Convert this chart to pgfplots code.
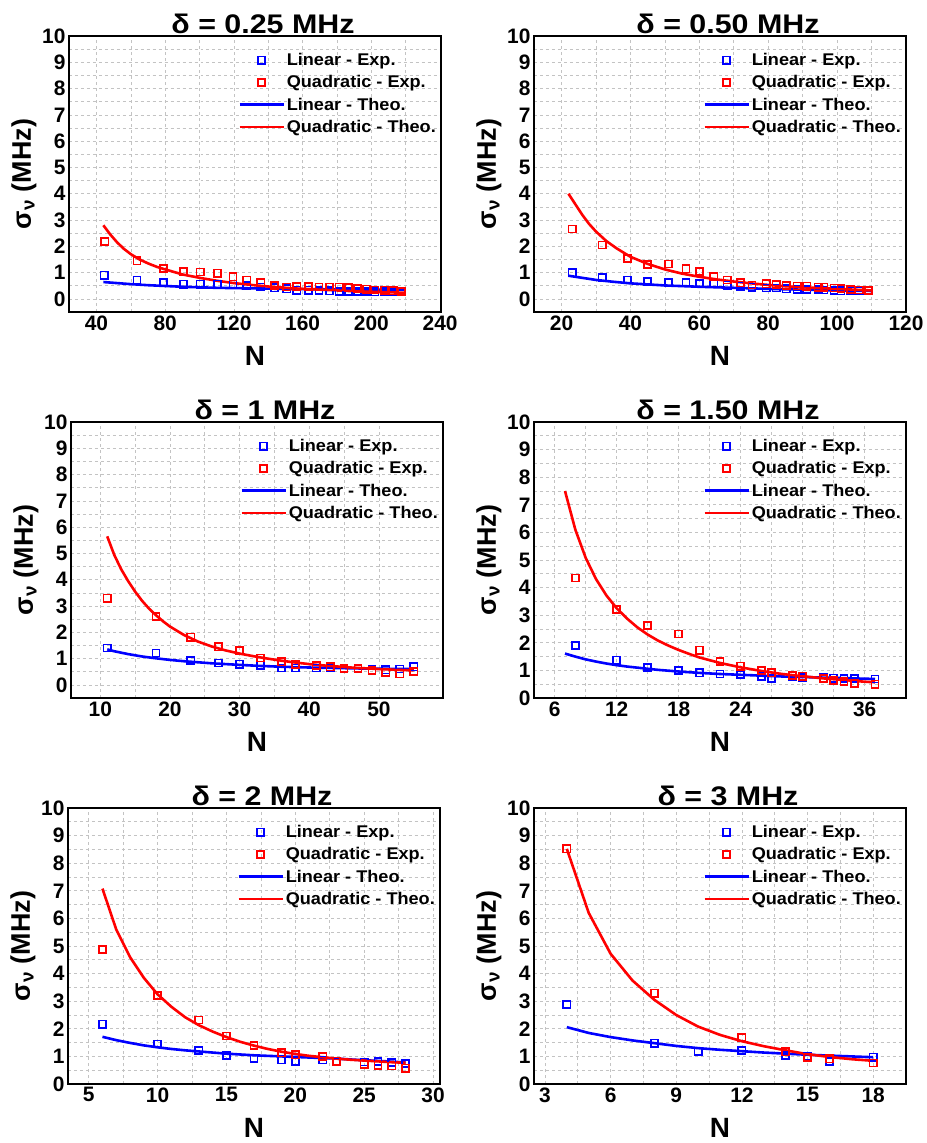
\documentclass[border=0pt]{standalone}
\usepackage{fontspec}
\setmainfont{Liberation Sans}
\newfontfamily\widefont[FakeStretch=1.13]{Liberation Sans}
\newfontfamily\legfont[FakeStretch=1.07]{Liberation Sans}
\usepackage{pgfplots}
\pgfplotsset{compat=1.18}
\definecolor{gridgray}{RGB}{195,195,195}
\pgfplotsset{
  panel/.style={
    scale only axis, width=372bp, height=276bp,
    ymax=10, ytick={0,1,...,10},
    minor x tick num=1, minor y tick num=1,
    grid=both,
    major grid style={dashed, color=gridgray, line width=0.7bp},
    minor grid style={dashed, color=gridgray, line width=0.7bp},
    axis line style={line width=1.4bp},
    tick style={draw=none},
    ticklabel style={font=\bfseries\fontsize{21}{21}\selectfont},
    /pgf/number format/assume math mode=true,
    xlabel={N}, ylabel={σ\textsubscript{ν} (MHz)},
    xlabel style={font=\bfseries\fontsize{28}{28}\selectfont, yshift=-9bp},
    ylabel style={font=\bfseries\fontsize{27}{27}\selectfont, yshift=-1bp},
    title style={font=\widefont\bfseries\fontsize{27}{27}\selectfont, yshift=-7bp, xshift=8bp},
    legend cell align=left,
    legend style={draw=none, fill=none, at={(0.992,0.945)}, anchor=north east,
      font=\legfont\bfseries\fontsize{17}{19}\selectfont, inner sep=0bp, row sep=4.5bp},
  },
  expm/.style={only marks, mark=square, mark size=3.6bp, mark options={line width=1.6bp},
    legend image code/.code={\draw[mark repeat=2,mark phase=2,##1] plot coordinates {(0bp,0bp) (22bp,0bp) (44bp,0bp)};}},
  theo/.style={no marks, line width=2.6bp,
    legend image code/.code={\draw[##1] (0bp,0bp) -- (44bp,0bp);}},
}
\begin{document}
\begin{tikzpicture}
\useasboundingbox (0,0) rectangle (927bp,-1143bp);
% Panel 1
\begin{axis}[panel, at={(69bp,-312bp)}, anchor=south west,
  title={δ = 0.25 MHz}, xmin=24, xmax=240.5, ymin=-0.5, xtick={40,80,...,240}]
\addplot[expm, blue] coordinates {(44.5,0.90) (63.6,0.71) (79.1,0.62) (90.7,0.56) (100.4,0.56) (110.5,0.56) (119.4,0.56) (127.5,0.50) (135.6,0.45) (143.6,0.42) (150.7,0.38) (156.6,0.33) (163.3,0.33) (169.5,0.32) (175.5,0.31) (181.3,0.29) (186.6,0.29) (192,0.28) (197.2,0.28) (202,0.27) (207.5,0.27) (212.7,0.26) (217.5,0.26)};
\addlegendentry{Linear - Exp.}
\addplot[expm, red] coordinates {(44.8,2.18) (63.6,1.45) (79.1,1.16) (90.7,1.04) (100.4,1.02) (110.5,0.98) (119.4,0.84) (127.5,0.71) (135.6,0.61) (143.6,0.51) (150.7,0.45) (156.6,0.46) (163.3,0.46) (169.5,0.45) (175.5,0.45) (181.3,0.45) (186.6,0.43) (192,0.39) (197.2,0.37) (202,0.34) (207.5,0.33) (212.7,0.31) (217.5,0.28)};
\addlegendentry{Quadratic - Exp.}
\addplot[theo, blue] coordinates {(44,0.64) (50,0.61) (60,0.56) (70,0.52) (80,0.49) (90,0.46) (100,0.44) (110,0.42) (120,0.41) (140,0.39) (160,0.37) (180,0.36) (200,0.35) (220,0.35)};
\addlegendentry{Linear - Theo.}
\addplot[theo, red] coordinates {(44,2.80) (48,2.45) (52,2.15) (56,1.90) (60,1.70) (65,1.50) (70,1.35) (75,1.22) (80,1.12) (90,0.93) (100,0.80) (110,0.69) (120,0.60) (130,0.53) (140,0.47) (150,0.42) (160,0.38) (170,0.35) (180,0.32) (190,0.29) (200,0.27) (210,0.25) (220,0.23)};
\addlegendentry{Quadratic - Theo.}
\end{axis}
% Panel 2
\begin{axis}[panel, at={(534bp,-312bp)}, anchor=south west,
  title={δ = 0.50 MHz}, xmin=12, xmax=120, ymin=-0.5, xtick={20,40,...,120}]
\addplot[expm, blue] coordinates {(23.1,0.99) (31.8,0.81) (39.1,0.72) (45,0.66) (51.1,0.61) (56.1,0.61) (60.1,0.57) (64.2,0.57) (68.1,0.52) (72,0.48) (75.3,0.44) (79.4,0.41) (82.3,0.41) (85.2,0.38) (88.4,0.37) (91.2,0.35) (94.5,0.35) (96.2,0.34) (99.1,0.32) (101.1,0.31) (104,0.31) (106.4,0.30) (109.1,0.30)};
\addlegendentry{Linear - Exp.}
\addplot[expm, red] coordinates {(23.1,2.66) (31.8,2.05) (39.1,1.54) (45,1.30) (51.1,1.33) (56.1,1.14) (60.1,1.04) (64.2,0.85) (68.1,0.72) (72,0.61) (75.3,0.53) (79.4,0.57) (82.3,0.54) (85.2,0.51) (88.4,0.49) (91.2,0.48) (94.5,0.44) (96.2,0.44) (99.1,0.41) (101.1,0.39) (104,0.35) (106.4,0.34) (109.1,0.32)};
\addlegendentry{Quadratic - Exp.}
\addplot[theo, blue] coordinates {(22,0.88) (25,0.82) (30,0.72) (35,0.65) (40,0.59) (45,0.55) (50,0.51) (60,0.46) (70,0.42) (80,0.38) (90,0.35) (100,0.32) (110,0.30)};
\addlegendentry{Linear - Theo.}
\addplot[theo, red] coordinates {(22,4.0) (24,3.6) (26,3.2) (28,2.85) (30,2.56) (33,2.2) (36,1.92) (40,1.6) (45,1.33) (50,1.12) (55,0.96) (60,0.84) (65,0.74) (70,0.66) (75,0.59) (80,0.53) (85,0.48) (90,0.44) (95,0.41) (100,0.38) (105,0.35) (110,0.32)};
\addlegendentry{Quadratic - Theo.}
\end{axis}
% Panel 3
\begin{axis}[panel, at={(71bp,-698bp)}, anchor=south west,
  title={δ = 1 MHz}, xmin=5.8, xmax=59.2, ymin=-0.5, xtick={10,20,...,50}]
\addplot[expm, blue] coordinates {(11,1.40) (18,1.21) (23,0.92) (27,0.83) (30,0.79) (33,0.75) (36,0.64) (38,0.64) (41,0.64) (43,0.66) (45,0.64) (47,0.62) (49,0.57) (51,0.57) (53,0.60) (55,0.69)};
\addlegendentry{Linear - Exp.}
\addplot[expm, red] coordinates {(11,3.30) (18,2.60) (23,1.81) (27,1.45) (30,1.30) (33,1.02) (36,0.88) (38,0.77) (41,0.73) (43,0.69) (45,0.63) (47,0.63) (49,0.55) (51,0.47) (53,0.42) (55,0.51)};
\addlegendentry{Quadratic - Exp.}
\addplot[theo, blue] coordinates {(11,1.35) (12,1.28) (14,1.17) (16,1.08) (18,1.01) (20,0.95) (22,0.90) (24,0.86) (26,0.82) (28,0.79) (30,0.76) (33,0.72) (36,0.69) (40,0.66) (44,0.64) (48,0.62) (52,0.61) (55,0.61)};
\addlegendentry{Linear - Theo.}
\addplot[theo, red] coordinates {(11,5.65) (12,4.95) (13,4.4) (14,3.95) (15,3.55) (16,3.2) (17,2.9) (18,2.65) (19,2.42) (20,2.22) (22,1.9) (24,1.65) (26,1.46) (28,1.31) (30,1.19) (32,1.09) (34,1.0) (36,0.92) (38,0.85) (40,0.79) (42,0.74) (44,0.70) (46,0.66) (48,0.63) (50,0.60) (52,0.58) (55,0.55)};
\addlegendentry{Quadratic - Theo.}
\end{axis}
% Panel 4
\begin{axis}[panel, at={(534bp,-698bp)}, anchor=south west,
  title={δ = 1.50 MHz}, xmin=4, xmax=40, ymin=0, xtick={6,12,...,36}]
\addplot[expm, blue] coordinates {(8,1.90) (12,1.37) (15,1.11) (18,0.99) (20,0.91) (22,0.87) (24,0.85) (26,0.79) (27,0.70) (29,0.79) (30,0.73) (32,0.73) (33,0.72) (34,0.71) (35,0.70) (37,0.69)};
\addlegendentry{Linear - Exp.}
\addplot[expm, red] coordinates {(8,4.35) (12,3.20) (15,2.62) (18,2.32) (20,1.73) (22,1.33) (24,1.15) (26,0.99) (27,0.91) (29,0.82) (30,0.79) (32,0.70) (33,0.64) (34,0.60) (35,0.54) (37,0.50)};
\addlegendentry{Quadratic - Exp.}
\addplot[theo, blue] coordinates {(7,1.61) (8,1.50) (9,1.40) (10,1.32) (11,1.25) (12,1.19) (13,1.14) (14,1.10) (15,1.06) (16,1.02) (17,0.99) (18,0.96) (20,0.91) (22,0.87) (24,0.84) (26,0.81) (28,0.78) (30,0.76) (32,0.74) (34,0.72) (36,0.70) (37,0.69)};
\addlegendentry{Linear - Theo.}
\addplot[theo, red] coordinates {(7,7.5) (8,6.1) (9,5.08) (10,4.31) (11,3.72) (12,3.25) (13,2.88) (14,2.56) (15,2.30) (16,2.08) (17,1.90) (18,1.74) (19,1.60) (20,1.47) (21,1.37) (22,1.27) (24,1.11) (26,0.98) (28,0.87) (30,0.79) (32,0.71) (34,0.65) (36,0.59) (37,0.57)};
\addlegendentry{Quadratic - Theo.}
\end{axis}
% Panel 5
\begin{axis}[panel, at={(68bp,-1084bp)}, anchor=south west,
  title={δ = 2 MHz}, xmin=3.5, xmax=30.5, ymin=0, xtick={5,10,...,30}]
\addplot[expm, blue] coordinates {(6,2.17) (10,1.45) (13,1.21) (15,1.03) (17,0.93) (19,0.87) (20,0.83) (22,0.87) (23,0.81) (25,0.80) (26,0.81) (27,0.78) (28,0.75)};
\addlegendentry{Linear - Exp.}
\addplot[expm, red] coordinates {(6,4.87) (10,3.21) (13,2.32) (15,1.74) (17,1.39) (19,1.13) (20,1.06) (22,0.99) (23,0.83) (25,0.72) (26,0.68) (27,0.65) (28,0.57)};
\addlegendentry{Quadratic - Exp.}
\addplot[theo, blue] coordinates {(6,1.71) (7,1.59) (8,1.49) (9,1.40) (10,1.33) (11,1.27) (12,1.22) (13,1.18) (14,1.14) (15,1.10) (16,1.07) (17,1.04) (18,1.02) (19,1.0) (20,0.98) (21,0.96) (22,0.94) (23,0.92) (24,0.89) (25,0.86) (26,0.84) (27,0.81) (28,0.78)};
\addlegendentry{Linear - Theo.}
\addplot[theo, red] coordinates {(6,7.08) (7,5.6) (8,4.6) (9,3.85) (10,3.25) (11,2.8) (12,2.42) (13,2.13) (14,1.9) (15,1.7) (16,1.53) (17,1.39) (18,1.27) (19,1.17) (20,1.09) (21,1.02) (22,0.97) (23,0.92) (24,0.88) (25,0.85) (26,0.82) (27,0.79) (28,0.77)};
\addlegendentry{Quadratic - Theo.}
\end{axis}
% Panel 6
\begin{axis}[panel, at={(534bp,-1084bp)}, anchor=south west,
  title={δ = 3 MHz}, xmin=2.5, xmax=19.5, ymin=0, xtick={3,6,...,18}]
\addplot[expm, blue] coordinates {(4,2.88) (8,1.48) (10,1.19) (12,1.21) (14,1.03) (15,1.0) (16,0.81) (18,0.97)};
\addlegendentry{Linear - Exp.}
\addplot[expm, red] coordinates {(4,8.52) (8,3.29) (12,1.69) (14,1.17) (15,0.97) (16,0.91) (18,0.76)};
\addlegendentry{Quadratic - Exp.}
\addplot[theo, blue] coordinates {(4,2.06) (5,1.85) (6,1.70) (7,1.58) (8,1.48) (9,1.38) (10,1.30) (11,1.24) (12,1.19) (13,1.14) (14,1.10) (15,1.06) (16,1.03) (17,1.00) (18,0.97)};
\addlegendentry{Linear - Theo.}
\addplot[theo, red] coordinates {(4,8.52) (5,6.2) (6,4.72) (7,3.75) (8,3.05) (9,2.50) (10,2.08) (11,1.78) (12,1.55) (13,1.37) (14,1.22) (15,1.08) (16,0.98) (17,0.90) (18,0.84)};
\addlegendentry{Quadratic - Theo.}
\end{axis}
\end{tikzpicture}
\end{document}
